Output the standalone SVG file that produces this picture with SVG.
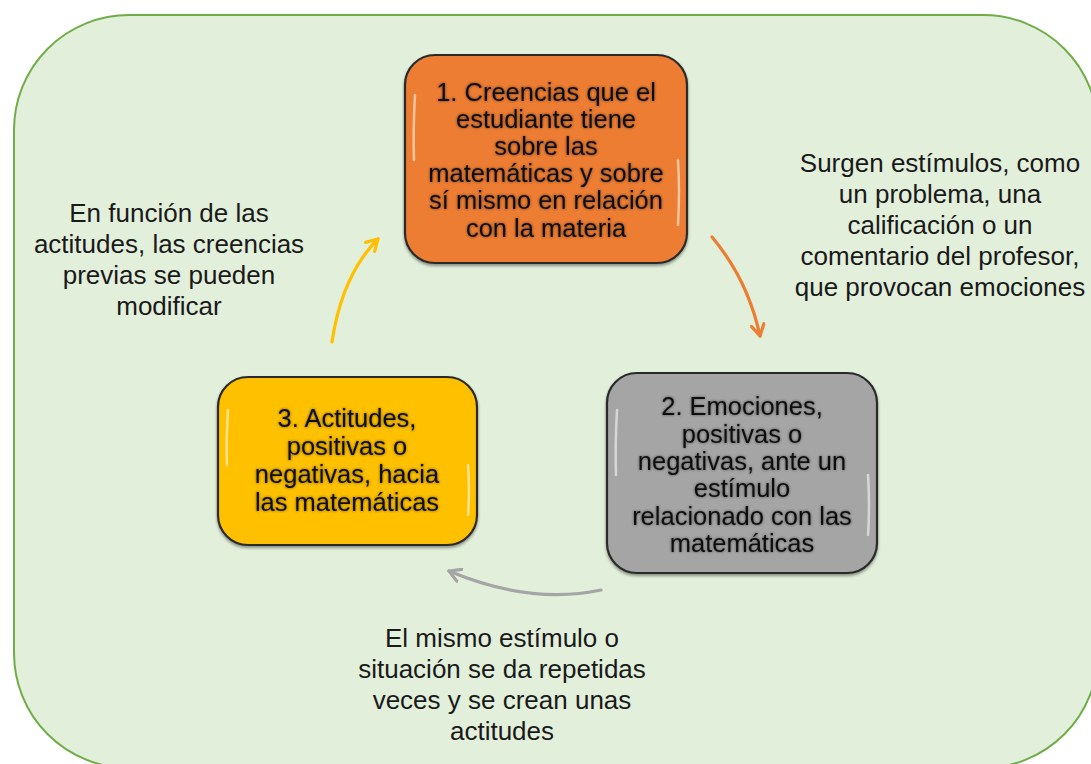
<svg xmlns="http://www.w3.org/2000/svg" width="1091" height="764" viewBox="0 0 1091 764">
<style>
.bg{fill:#E2EFDA;stroke:#70AD47;stroke-width:2}
.box{stroke:#2b2b2b;stroke-width:2.2}
.hl{fill:none;stroke:#fff;stroke-width:2.5;stroke-linecap:round;opacity:0.55}
.bt{font-family:"Liberation Sans",Arial,sans-serif;font-size:25.5px;fill:#111;text-anchor:middle}
.ot{font-family:"Liberation Sans",Arial,sans-serif;font-size:26px;fill:#1a1a1a;text-anchor:middle}
.arr{fill:none;stroke-width:3.2;stroke-linecap:round}
</style>
<defs>
<filter id="ts" x="-10%" y="-10%" width="120%" height="130%">
<feGaussianBlur in="SourceAlpha" stdDeviation="1.4" result="b"/>
<feComponentTransfer in="b" result="s"><feFuncA type="linear" slope="0.55"/></feComponentTransfer>
<feMerge><feMergeNode in="s"/><feMergeNode in="SourceGraphic"/></feMerge>
</filter>
<filter id="bs" x="-10%" y="-10%" width="120%" height="120%">
<feGaussianBlur in="SourceAlpha" stdDeviation="1.5" result="b"/>
<feOffset dx="0" dy="1.5" in="b" result="o"/>
<feComponentTransfer in="o" result="s"><feFuncA type="linear" slope="0.4"/></feComponentTransfer>
<feMerge><feMergeNode in="s"/><feMergeNode in="SourceGraphic"/></feMerge>
</filter>
<marker id="mo" viewBox="0 0 10 10" refX="8" refY="5" markerWidth="5" markerHeight="5" orient="auto" markerUnits="strokeWidth"><path d="M1,1 L8,5 L1,9" fill="none" stroke="#ED7D31" stroke-width="2" stroke-linecap="round" stroke-linejoin="round"/></marker>
<marker id="my" viewBox="0 0 10 10" refX="8" refY="5" markerWidth="5" markerHeight="5" orient="auto" markerUnits="strokeWidth"><path d="M1,1 L8,5 L1,9" fill="none" stroke="#FFC000" stroke-width="2" stroke-linecap="round" stroke-linejoin="round"/></marker>
<marker id="mg" viewBox="0 0 10 10" refX="8" refY="5" markerWidth="5" markerHeight="5" orient="auto" markerUnits="strokeWidth"><path d="M1,1 L8,5 L1,9" fill="none" stroke="#A5A5A5" stroke-width="2" stroke-linecap="round" stroke-linejoin="round"/></marker>
</defs>
<rect class="bg" x="14" y="15" width="1084" height="753" rx="115" ry="115"/>
<g id="connectors">
<path class="arr" stroke="#ED7D31" marker-end="url(#mo)" d="M712,237 Q748,280 760,336"/>
<path class="arr" stroke="#A5A5A5" marker-end="url(#mg)" d="M601,590 Q530,605 449,571"/>
<path class="arr" stroke="#FFC000" marker-end="url(#my)" d="M332,342 Q342,275 378,239"/>
</g>
<g id="node1">
<rect class="box" filter="url(#bs)" x="405" y="55" width="282" height="208" rx="30" fill="#ED7D31"/>
<path class="hl" d="M415,95 Q413,130 414,160"/>
<path class="hl" d="M678,160 Q680,190 678,225"/>
<g class="bt" filter="url(#ts)">
<text x="546" y="101">1. Creencias que el</text>
<text x="546" y="128">estudiante tiene</text>
<text x="546" y="155">sobre las</text>
<text x="546" y="182">matemáticas y sobre</text>
<text x="546" y="209">sí mismo en relación</text>
<text x="546" y="237">con la materia</text>
</g>
</g>
<g id="node2">
<rect class="box" filter="url(#bs)" x="607" y="373" width="270" height="200" rx="30" fill="#A5A5A5"/>
<path class="hl" d="M617,410 Q615,445 616,475"/>
<path class="hl" d="M868,475 Q870,505 868,535"/>
<g class="bt" filter="url(#ts)">
<text x="742" y="415">2. Emociones,</text>
<text x="742" y="443">positivas o</text>
<text x="742" y="470">negativas, ante un</text>
<text x="742" y="497">estímulo</text>
<text x="742" y="525">relacionado con las</text>
<text x="742" y="552">matemáticas</text>
</g>
</g>
<g id="node3">
<rect class="box" filter="url(#bs)" x="218" y="377" width="259" height="168" rx="30" fill="#FFC000"/>
<path class="hl" d="M228,410 Q226,440 227,465"/>
<path class="hl" d="M468,465 Q470,490 468,515"/>
<g class="bt" filter="url(#ts)">
<text x="347" y="427">3. Actitudes,</text>
<text x="347" y="455">positivas o</text>
<text x="347" y="483">negativas, hacia</text>
<text x="347" y="511">las matemáticas</text>
</g>
</g>
<g id="label-right" class="ot">
<text x="940" y="172">Surgen estímulos, como</text>
<text x="940" y="203">un problema, una</text>
<text x="940" y="234">calificación o un</text>
<text x="940" y="265">comentario del profesor,</text>
<text x="940" y="296">que provocan emociones</text>
</g>
<g id="label-left" class="ot">
<text x="169" y="222">En función de las</text>
<text x="169" y="253">actitudes, las creencias</text>
<text x="169" y="284">previas se pueden</text>
<text x="169" y="315">modificar</text>
</g>
<g id="label-bottom" class="ot">
<text x="502" y="647">El mismo estímulo o</text>
<text x="502" y="678">situación se da repetidas</text>
<text x="502" y="709">veces y se crean unas</text>
<text x="502" y="740">actitudes</text>
</g>
</svg>
